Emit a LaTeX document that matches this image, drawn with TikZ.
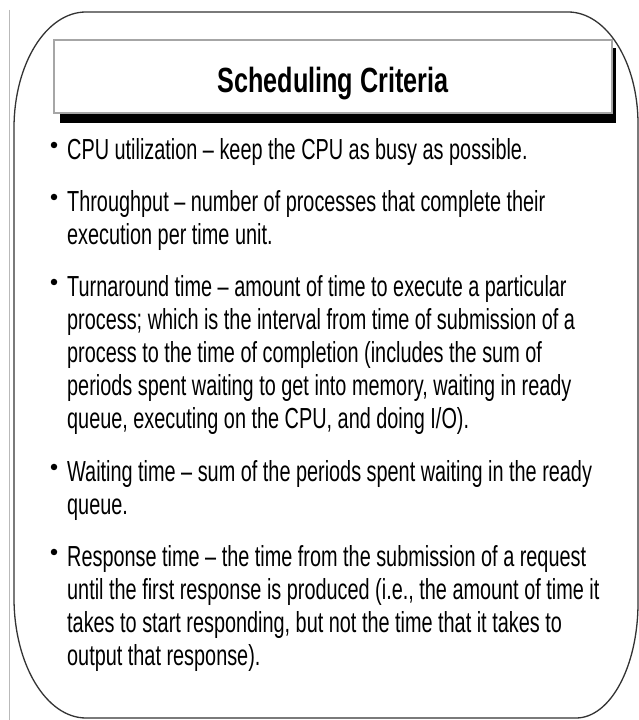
\documentclass[tikz,border=0pt]{standalone}
\usepackage{fontspec}
\setmainfont{Liberation Sans}[FakeStretch=0.685]
\newfontfamily\titlefam{Liberation Sans}[FakeStretch=0.72]
\begin{document}
\begin{tikzpicture}[x=1pt,y=1pt,
  bodyline/.style={anchor=base west, inner sep=0pt, font=\fontsize{29}{33}\selectfont},
  bulletdot/.style={circle, fill=black, inner sep=0pt, minimum size=6.5pt},
  titlebox/.style={draw=gray!70, fill=white, line width=1.2pt},
  shadowbox/.style={fill=black},
  frame/.style={draw=black!80, line width=1.3pt, fill=white}
]
\useasboundingbox (0,0) rectangle (639,720);
\fill[white] (0,0) rectangle (639,720);
% left gray rule
\coordinate (ruletop) at (9,710);
\coordinate (rulebot) at (9,0);
\draw[gray!55, line width=1pt] (ruletop) -- (rulebot);
% rounded frame with elliptical corners
\draw[frame] (86,708) -- (568,708)
  arc[start angle=90, end angle=0, x radius=70pt, y radius=112pt]
  -- (638,117)
  arc[start angle=0, end angle=-90, x radius=62pt, y radius=115pt]
  -- (86,2)
  arc[start angle=270, end angle=180, x radius=72pt, y radius=120pt]
  -- (14,592)
  arc[start angle=180, end angle=90, x radius=72pt, y radius=116pt]
  -- cycle;
% title box with shadow
\fill[shadowbox] (60,597) rectangle (616,672);
\draw[titlebox] (54,607) rectangle (612,680);
\node[anchor=base, inner sep=0pt, font=\titlefam\bfseries\fontsize{35}{40}\selectfont] (title) at (333,627) {Scheduling Criteria};
% bullets
\node[bulletdot] (b1) at (54,575) {};
\node[bulletdot] (b2) at (54,523) {};
\node[bulletdot] (b3) at (54,438) {};
\node[bulletdot] (b4) at (54,253) {};
\node[bulletdot] (b5) at (54,168) {};
% text lines
\node[bodyline] (l1) at (67,560) {CPU utilization – keep the CPU as busy as possible.};
\node[bodyline] (l2) at (67,508) {Throughput – number of processes that complete their};
\node[bodyline] (l3) at (67,475) {execution per time unit.};
\node[bodyline] (l4) at (67,423) {Turnaround time – amount of time to execute a particular};
\node[bodyline] (l5) at (67,390) {process; which is the interval from time of submission of a};
\node[bodyline] (l6) at (67,357) {process to the time of completion (includes the sum of};
\node[bodyline] (l7) at (67,324) {periods spent waiting to get into memory, waiting in ready};
\node[bodyline] (l8) at (67,291) {queue, executing on the CPU, and doing I/O).};
\node[bodyline] (l9) at (67,238) {Waiting time – sum of the periods spent waiting in the ready};
\node[bodyline] (l10) at (67,205) {queue.};
\node[bodyline] (l11) at (67,153) {Response time – the time from the submission of a request};
\node[bodyline] (l12) at (67,120) {until the first response is produced (i.e., the amount of time it};
\node[bodyline] (l13) at (67,87) {takes to start responding, but not the time that it takes to};
\node[bodyline] (l14) at (67,54) {output that response).};
\end{tikzpicture}
\end{document}
